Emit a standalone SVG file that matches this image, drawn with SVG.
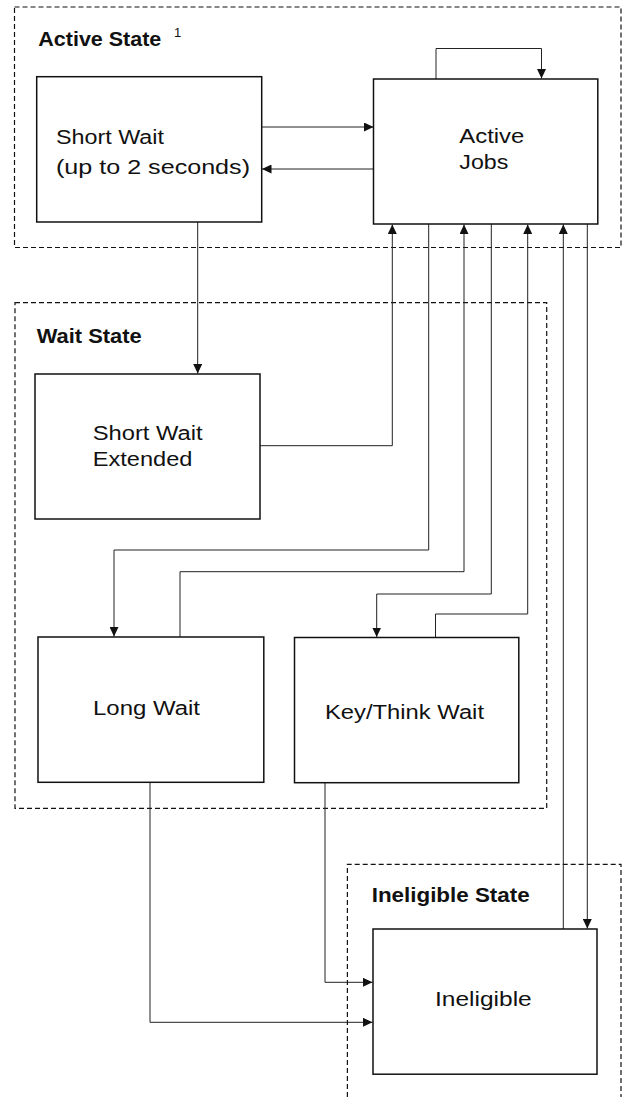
<svg xmlns="http://www.w3.org/2000/svg" width="627" height="1097" viewBox="0 0 627 1097">
<style>
.region{fill:none;stroke:#111;stroke-width:1.2;stroke-dasharray:5 3}
.box{fill:#fff;stroke:#111;stroke-width:1.5}
.conn{fill:none;stroke:#222;stroke-width:1}
.lbl{font-family:"Liberation Sans",Arial,sans-serif;font-size:20px;fill:#111}
.title{font-family:"Liberation Sans",Arial,sans-serif;font-size:21px;font-weight:bold;fill:#111}
</style>
<defs>
<marker id="arr" markerUnits="userSpaceOnUse" markerWidth="10" markerHeight="9" refX="9.5" refY="4.5" orient="auto">
<path d="M0,0 L9.5,4.5 L0,9 z" fill="#111"/>
</marker>
</defs>
<rect width="627" height="1097" fill="#fff"/>
<g id="active-state">
<rect class="region" x="14.5" y="7" width="606.5" height="240.5"/>
<text class="title" x="38.3" y="45.7" textLength="123" lengthAdjust="spacingAndGlyphs">Active State</text>
<text class="lbl" x="174" y="36.7" style="font-size:13px">1</text>
</g>
<g id="wait-state">
<rect class="region" x="15" y="302.7" width="531.7" height="505.6"/>
<text class="title" x="36.7" y="343.3" textLength="105" lengthAdjust="spacingAndGlyphs">Wait State</text>
</g>
<g id="ineligible-state">
<path class="region" d="M347.4,1097 V864.3 H621 V1097"/>
<text class="title" x="371.7" y="902.3" textLength="158" lengthAdjust="spacingAndGlyphs">Ineligible State</text>
</g>
<g id="connectors">
<line class="conn" x1="262" y1="127" x2="373.5" y2="127" marker-end="url(#arr)"/>
<line class="conn" x1="373.5" y1="169" x2="262" y2="169" marker-end="url(#arr)"/>
<path class="conn" d="M436,79 V48.5 H541.5 V78.5" marker-end="url(#arr)"/>
<line class="conn" x1="197.7" y1="222" x2="197.7" y2="373.5" marker-end="url(#arr)"/>
<path class="conn" d="M260,445.7 H392.3 V224.5" marker-end="url(#arr)"/>
<path class="conn" d="M428.7,224 V550 H114 V636.5" marker-end="url(#arr)"/>
<path class="conn" d="M180,637 V571.7 H464 V224.5" marker-end="url(#arr)"/>
<path class="conn" d="M491.3,224 V594 H376.7 V637" marker-end="url(#arr)"/>
<path class="conn" d="M435.5,637.5 V614 H527.7 V224.5" marker-end="url(#arr)"/>
<line class="conn" x1="563.3" y1="929" x2="563.3" y2="224.5" marker-end="url(#arr)"/>
<line class="conn" x1="587.3" y1="224" x2="587.3" y2="928.5" marker-end="url(#arr)"/>
<path class="conn" d="M325,782.7 V982.3 H372.5" marker-end="url(#arr)"/>
<path class="conn" d="M150,782.3 V1022.3 H372.5" marker-end="url(#arr)"/>
</g>
<g id="short-wait">
<rect class="box" x="36.7" y="76.7" width="225" height="145.3"/>
<text class="lbl" x="56" y="144.3" textLength="108" lengthAdjust="spacingAndGlyphs">Short Wait</text>
<text class="lbl" x="56" y="173.5" textLength="194" lengthAdjust="spacingAndGlyphs">(up to 2 seconds)</text>
</g>
<g id="active-jobs">
<rect class="box" x="373.5" y="79" width="224.3" height="145"/>
<text class="lbl" x="459.3" y="143.3" textLength="65" lengthAdjust="spacingAndGlyphs">Active</text>
<text class="lbl" x="459.3" y="169.3" textLength="49" lengthAdjust="spacingAndGlyphs">Jobs</text>
</g>
<g id="short-wait-extended">
<rect class="box" x="35" y="374" width="225" height="145"/>
<text class="lbl" x="92.7" y="440" textLength="110" lengthAdjust="spacingAndGlyphs">Short Wait</text>
<text class="lbl" x="92.7" y="465.7" textLength="99.7" lengthAdjust="spacingAndGlyphs">Extended</text>
</g>
<g id="long-wait">
<rect class="box" x="38" y="637" width="225.8" height="145.3"/>
<text class="lbl" x="93" y="715" textLength="107" lengthAdjust="spacingAndGlyphs">Long Wait</text>
</g>
<g id="key-think-wait">
<rect class="box" x="294.5" y="637.5" width="224.3" height="145.2"/>
<text class="lbl" x="325" y="719.3" textLength="159" lengthAdjust="spacingAndGlyphs">Key/Think Wait</text>
</g>
<g id="ineligible">
<rect class="box" x="373" y="929" width="224" height="145.2"/>
<text class="lbl" x="435" y="1006" textLength="96.7" lengthAdjust="spacingAndGlyphs">Ineligible</text>
</g>
</svg>
